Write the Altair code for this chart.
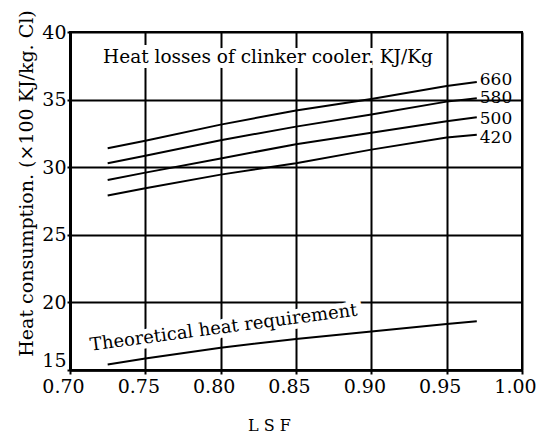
import altair as alt
import pandas as pd

# ---- data ----
lsf = [0.725, 0.75, 0.80, 0.85, 0.90, 0.95, 0.97]
loss_660 = [31.4, 31.95, 33.15, 34.2, 35.05, 36.0, 36.3]
loss_580 = [30.3, 30.85, 32.0, 33.0, 33.9, 34.85, 35.1]
loss_500 = [29.05, 29.6, 30.65, 31.7, 32.55, 33.4, 33.7]
loss_420 = [27.9, 28.45, 29.45, 30.3, 31.3, 32.2, 32.4]
theoretical = [15.4, 15.85, 16.65, 17.3, 17.85, 18.4, 18.6]
series_labels = ["660", "580", "500", "420"]
label_q = [36.45, 35.1, 33.6, 32.15]
x_ticks = [0.70, 0.75, 0.80, 0.85, 0.90, 0.95, 1.00]
y_ticks = [15, 20, 25, 30, 35, 40]

note_top = "Heat losses of clinker cooler. KJ/Kg"
note_bottom = "Theoretical heat requirement"

FONT = "DejaVu Serif"

rows = []
for name, vals in zip(series_labels + ["theo"],
                      [loss_660, loss_580, loss_500, loss_420, theoretical]):
    for x, y in zip(lsf, vals):
        rows.append({"series": name, "lsf": x, "q": y})
curves = pd.DataFrame(rows)

ends = pd.DataFrame({
    "series": series_labels,
    "lsf": [lsf[-1]] * 4,
    "q": label_q,
})

top_note = pd.DataFrame({"lsf": [0.8314], "q": [38.15], "t": [note_top]})
bot_note = pd.DataFrame({"lsf": [0.802], "q": [18.1], "t": [note_bottom]})

xaxis = alt.Axis(
    values=x_ticks, format=".2f", title="L S F",
    titleFont=FONT, titleFontSize=16, titleFontWeight="normal",
    titleX=199, titleY=55, titleBaseline="middle", titleAlign="center",
    labelFont=FONT, labelFontSize=19, labelPadding=3, labelOffset=-7,
    labelFlush=False,
    tickSize=4, tickWidth=2, domainWidth=2.5,
    grid=True, gridColor="black", gridWidth=2, gridOpacity=1,
    domainColor="black", tickColor="black", labelColor="black",
)
yaxis = alt.Axis(
    values=y_ticks, title="Heat consumption. (×100 KJ/kg. Cl)",
    titleFont=FONT, titleFontSize=19, titleFontWeight="normal",
    titleX=-44, titleY=151, titleBaseline="middle", titleAlign="center",
    labelFont=FONT, labelFontSize=19, labelPadding=1, labelFlush=False,
    labelBaseline={"condition": {"test": "datum.value == 15", "value": "bottom"},
                   "value": "middle"},
    tickSize=3, tickWidth=2, domainWidth=3,
    grid=True, gridColor="black", gridWidth=2, gridOpacity=1,
    domainColor="black", tickColor="black", labelColor="black",
)

X = alt.X("lsf:Q", scale=alt.Scale(domain=[0.70, 1.00], nice=False, zero=False), axis=xaxis)
Y = alt.Y("q:Q", scale=alt.Scale(domain=[15, 40], nice=False, zero=False), axis=yaxis)

halo_top = alt.Chart(top_note).mark_text(
    font=FONT, fontSize=18.5, stroke="white", strokeWidth=10, fill="white",
    baseline="middle", align="center"
).encode(x=X, y=Y, text="t:N")
text_top = alt.Chart(top_note).mark_text(
    font=FONT, fontSize=18.5, color="black", baseline="middle", align="center"
).encode(x=X, y=Y, text="t:N")

halo_bot = alt.Chart(bot_note).mark_text(
    font=FONT, fontSize=18, stroke="white", strokeWidth=10, fill="white",
    baseline="middle", align="center", angle=352.5
).encode(x=X, y=Y, text="t:N")
text_bot = alt.Chart(bot_note).mark_text(
    font=FONT, fontSize=18, color="black", baseline="middle", align="center", angle=352.5
).encode(x=X, y=Y, text="t:N")

lines = alt.Chart(curves).mark_line(color="black", strokeWidth=2).encode(
    x=X, y=Y, detail="series:N"
)

labels = alt.Chart(ends).mark_text(
    font=FONT, fontSize=17, color="black", align="left", baseline="middle", dx=3
).encode(x=X, y=Y, text="series:N")

chart = alt.layer(halo_top, halo_bot, text_top, text_bot, lines, labels).properties(
    width=452, height=338,
    autosize=alt.AutoSizeParams(type="none"),
    padding={"left": 70, "top": 32, "right": 20, "bottom": 69},
    background="white",
).configure_view(stroke="black", strokeWidth=2)

chart.save("out.html", embed_options={"renderer": "svg", "actions": False})
